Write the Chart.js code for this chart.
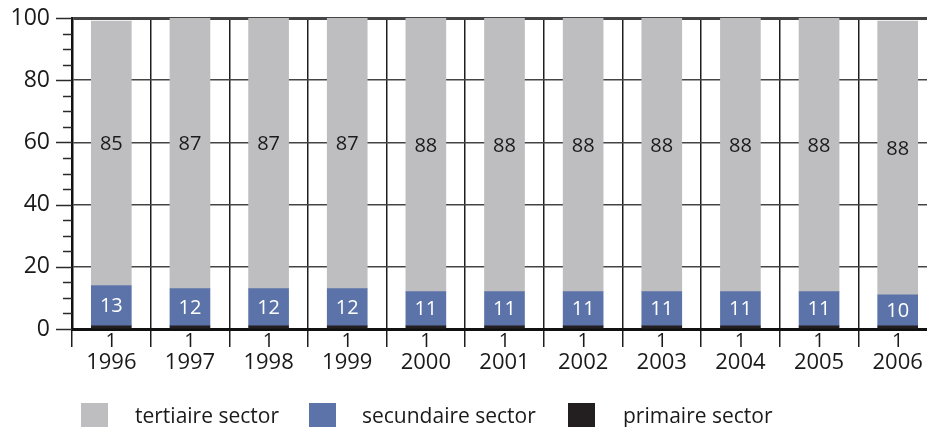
<!DOCTYPE html>
<html>
<head>
<meta charset="utf-8">
<script src="https://cdn.jsdelivr.net/npm/chart.js@4/dist/chart.umd.min.js"></script>
<style>
  html, body { margin: 0; padding: 0; background: #fff; overflow: hidden; }
  #wrap { width: 927px; height: 427px; overflow: hidden; }
</style>
</head>
<body>
<div id="wrap"><canvas id="chart" width="940" height="427"></canvas></div>
<script>
// ---- data ----
const years = ['1996', '1997', '1998', '1999', '2000', '2001', '2002', '2003', '2004', '2005', '2006'];
const primary = [1, 1, 1, 1, 1, 1, 1, 1, 1, 1, 1];
const secondary = [13, 12, 12, 12, 11, 11, 11, 11, 11, 11, 10];
const tertiary = [85, 87, 87, 87, 88, 88, 88, 88, 88, 88, 88];
const yTicks = [0, 20, 40, 60, 80, 100];

const COLORS = { tertiary: '#bebec0', secondary: '#5b73a8', primary: '#231f20' };
const FONT = '"Open Sans", "Noto Sans", sans-serif';

// value labels inside / under the bars
const barLabels = {
  id: 'barLabels',
  afterDatasetsDraw(chart) {
    const ctx = chart.ctx;
    ctx.save();
    ctx.font = '20px ' + FONT;
    ctx.textAlign = 'center';
    ctx.textBaseline = 'middle';
    chart.data.datasets.forEach((ds, i) => {
      const meta = chart.getDatasetMeta(i);
      meta.data.forEach((bar, j) => {
        const v = ds.data[j];
        if (ds.key === 'primary') {
          ctx.fillStyle = '#1a1a1a';
          ctx.fillText(v, bar.x, chart.chartArea.bottom + 12);
        } else if (ds.key === 'secondary') {
          ctx.fillStyle = '#ffffff';
          ctx.fillText(v, bar.x, (bar.y + bar.base) / 2 + 1);
        } else {
          ctx.fillStyle = '#1a1a1a';
          ctx.fillText(v, bar.x, (bar.y + bar.base) / 2 - 9);
        }
      });
    });
    ctx.restore();
  }
};

// major + minor ticks on the y axis
const yAxisTicks = {
  id: 'yAxisTicks',
  afterDraw(chart) {
    const ctx = chart.ctx;
    const y = chart.scales.y;
    const x0 = chart.chartArea.left;
    ctx.save();
    ctx.strokeStyle = '#2a2a2a';
    ctx.lineWidth = 1.5;
    for (let v = 0; v <= 100; v += 5) {
      const py = Math.round(y.getPixelForValue(v)) + 0.5;
      const len = yTicks.includes(v) ? 16 : 9;
      ctx.beginPath();
      ctx.moveTo(x0 - len, py);
      ctx.lineTo(x0, py);
      ctx.stroke();
    }
    ctx.restore();
  }
};

// legend under the axis
const bottomLegend = {
  id: 'bottomLegend',
  afterDraw(chart) {
    const ctx = chart.ctx;
    const items = [
      { key: 'tertiary', x: 81, tx: 135 },
      { key: 'secondary', x: 309, tx: 362 },
      { key: 'primary', x: 568, tx: 623 }
    ];
    ctx.save();
    ctx.font = '21px ' + FONT;
    ctx.textBaseline = 'alphabetic';
    ctx.textAlign = 'left';
    items.forEach(it => {
      const ds = chart.data.datasets.find(d => d.key === it.key);
      ctx.fillStyle = ds.backgroundColor;
      ctx.fillRect(it.x, 403, 27, 24);
      ctx.fillStyle = '#1a1a1a';
      ctx.fillText(ds.label, it.tx, 423);
    });
    ctx.restore();
  }
};

new Chart(document.getElementById('chart'), {
  type: 'bar',
  data: {
    labels: years,
    datasets: [
      { key: 'primary', label: 'primaire sector', data: primary, backgroundColor: COLORS.primary },
      { key: 'secondary', label: 'secundaire sector', data: secondary, backgroundColor: COLORS.secondary },
      { key: 'tertiary', label: 'tertiaire sector', data: tertiary, backgroundColor: COLORS.tertiary }
    ]
  },
  options: {
    responsive: false,
    animation: false,
    layout: { padding: { left: 0, right: 3, top: 18, bottom: 0 } },
    datasets: { bar: { barThickness: 40, borderWidth: 0 } },
    plugins: { legend: { display: false }, tooltip: { enabled: false } },
    scales: {
      x: {
        stacked: true,
        afterFit: s => { s.height = 98; s.paddingLeft = 0; s.paddingRight = 0; },
        grid: { offset: true, color: '#1e1e1e', lineWidth: 1.5, tickLength: 18, tickColor: '#1e1e1e', tickWidth: 1.5 },
        border: { color: '#111', width: 3 },
        ticks: { color: '#1a1a1a', font: { family: FONT, size: 22 }, padding: 3, maxRotation: 0 }
      },
      y: {
        stacked: true,
        min: 0,
        max: 100,
        afterFit: s => { s.width = 72; s.paddingTop = 0; s.paddingBottom = 0; },
        afterBuildTicks: s => { s.ticks = yTicks.map(v => ({ value: v })); },
        grid: {
          drawTicks: false,
          color: '#444',
          lineWidth: ctx => (ctx.tick && ctx.tick.value === 100 ? 3 : 1.5)
        },
        border: { color: '#111', width: 2.5 },
        ticks: { color: '#1a1a1a', font: { family: FONT, size: 23 }, padding: 22 }
      }
    }
  },
  plugins: [barLabels, yAxisTicks, bottomLegend]
});
</script>
</body>
</html>
